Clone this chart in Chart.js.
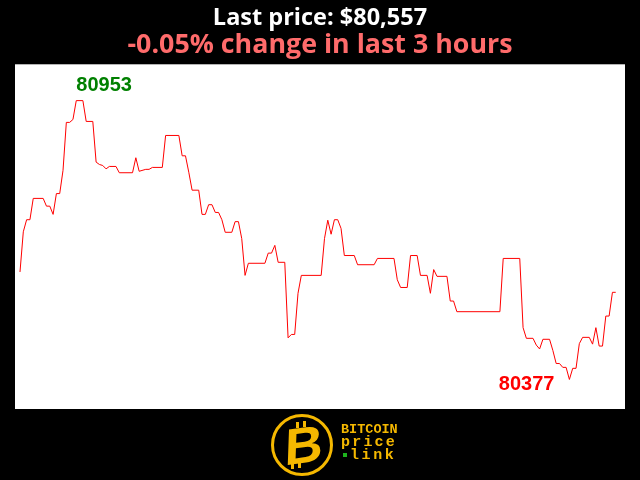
<!DOCTYPE html>
<html>
<head>
<meta charset="utf-8">
<script src="https://cdn.jsdelivr.net/npm/chart.js@4.4.1/dist/chart.umd.min.js"></script>
<style>
    body { margin: 0; background: #000; }
    #wrap { position: relative; width: 640px; height: 480px; overflow: hidden; }
    #logoCoin {
        position: absolute; left: 271px; top: 414px; width: 56px; height: 56px;
        border: 3px solid #f5b800; border-radius: 50%; background: #000;
    }
    #logoB {
        position: absolute; left: 8px; top: 0px; width: 44px; text-align: center;
        font: 900 52px/56px "Liberation Sans", Arial, sans-serif; color: #f5b800;
        transform: skewX(-10deg) rotate(-8deg);
    }
    .tick { position: absolute; width: 3px; height: 6px; background: #f5b800; }
    #logoText {
        position: absolute; left: 341px; top: 423px; color: #f5b800;
        font-family: "Liberation Mono", "DejaVu Sans Mono", monospace; font-weight: bold;
    }
    #logoText div { height: 13px; line-height: 13px; }
    .dot { display: inline-block; width: 4px; height: 4px; background: #1db31d; margin: 0 3px 2px 2px; }
</style>
</head>
<body>
<div id="wrap">
    <canvas id="priceChart" width="640" height="480"></canvas>
    <div id="logoCoin">
        <div class="tick" style="left:22px;top:5px"></div>
        <div class="tick" style="left:29px;top:4px"></div>
        <div class="tick" style="left:17px;top:46px"></div>
        <div class="tick" style="left:24px;top:45px"></div>
        <div id="logoB">B</div>
    </div>
    <div id="logoText">
        <div style="font-size:13.5px">BITCOIN</div>
        <div style="font-size:15px;letter-spacing:2.2px">price</div>
        <div style="font-size:15px;letter-spacing:2.6px"><span class="dot"></span>link</div>
    </div>
</div>
<script>
// minutos dentro das ultimas 3 horas e preco (USD)
const minutes = [0, 1, 2, 3, 4, 7, 8, 9, 10, 11,
    12, 13, 14, 15, 16, 17, 19, 20, 22, 23,
    24, 25, 26, 27, 29, 30, 34, 35, 36, 38,
    39, 40, 43, 44, 48, 49, 50, 51, 52, 54,
    55, 56, 57, 58, 59, 60, 61, 62, 64, 65,
    66, 67, 68, 69, 74, 75, 76, 77, 78, 80,
    81, 82, 83, 84, 85, 91, 92, 93, 94, 95,
    96, 97, 98, 101, 102, 107, 108, 113, 114, 115,
    117, 118, 120, 121, 123, 124, 125, 126, 129, 130,
    131, 132, 145, 146, 151, 152, 153, 155, 156, 157,
    158, 160, 161, 162, 163, 164, 165, 166, 167, 168,
    169, 170, 172, 173, 174, 175, 176, 177, 178, 179,
    180];
const prices = [80599, 80682, 80707, 80707, 80751, 80751, 80735, 80735, 80718, 80761,
    80761, 80809, 80908, 80908, 80914, 80953, 80953, 80910, 80910, 80826,
    80821, 80819, 80812, 80817, 80817, 80804, 80804, 80835, 80807, 80811,
    80811, 80815, 80815, 80881, 80881, 80839, 80839, 80805, 80768, 80768,
    80718, 80718, 80738, 80738, 80722, 80722, 80707, 80681, 80681, 80703,
    80703, 80668, 80592, 80617, 80617, 80638, 80638, 80654, 80619, 80619,
    80463, 80470, 80470, 80555, 80592, 80592, 80668, 80706, 80677, 80707,
    80707, 80689, 80633, 80633, 80614, 80614, 80627, 80627, 80583, 80567,
    80567, 80633, 80633, 80592, 80592, 80555, 80604, 80590, 80590, 80539,
    80539, 80517, 80517, 80627, 80627, 80484, 80462, 80462, 80448, 80440,
    80460, 80460, 80437, 80410, 80410, 80402, 80402, 80377, 80400, 80400,
    80451, 80464, 80464, 80450, 80484, 80446, 80446, 80508, 80508, 80557,
    80557];
const titleText = 'Last price: $80,557';
const subtitleText = '-0.05% change in last 3 hours';

const points = minutes.map((m, i) => ({ x: m, y: prices[i] }));

// fundo preto e area do grafico branca
const backgroundPlugin = {
    id: 'background',
    beforeDraw(chart) {
        const ctx = chart.ctx;
        const a = chart.chartArea;
        ctx.save();
        ctx.fillStyle = '#000';
        ctx.fillRect(0, 0, chart.width, chart.height);
        ctx.fillStyle = '#fff';
        ctx.fillRect(a.left, a.top, a.right - a.left, a.bottom - a.top);
        ctx.restore();
    }
};

// rotulos de maximo e minimo
const extremesPlugin = {
    id: 'extremes',
    afterDatasetsDraw(chart) {
        const ctx = chart.ctx;
        const xs = chart.scales.x, ys = chart.scales.y;
        const maxV = Math.max(...prices), minV = Math.min(...prices);
        const iMax = prices.indexOf(maxV), iMin = prices.indexOf(minV);
        ctx.save();
        ctx.font = 'bold 20px "Liberation Sans", Arial, sans-serif';
        ctx.textBaseline = 'alphabetic';
        ctx.fillStyle = '#008000';
        ctx.textAlign = 'left';
        ctx.fillText(String(maxV), xs.getPixelForValue(minutes[iMax]), ys.getPixelForValue(maxV) - 10);
        ctx.fillStyle = '#ff0000';
        ctx.textAlign = 'right';
        ctx.fillText(String(minV), xs.getPixelForValue(minutes[iMin]) - 15, ys.getPixelForValue(minV) + 11);
        ctx.restore();
    }
};

const ctx = document.getElementById('priceChart').getContext('2d');
const priceChart = new Chart(ctx, {
    type: 'line',
    data: {
        datasets: [{
            data: points,
            borderColor: '#ff0000',
            borderWidth: 1,
            pointRadius: 0,
            tension: 0,
            fill: false
        }]
    },
    options: {
        responsive: false,
        animation: false,
        devicePixelRatio: 1,
        layout: { padding: { left: 15, right: 15, top: 0, bottom: 71 } },
        scales: {
            x: { type: 'linear', min: -1.51, max: 182.8, display: false },
            y: { min: 80316, max: 81028, display: false }
        },
        plugins: {
            legend: { display: false },
            tooltip: { enabled: false },
            title: {
                display: true,
                text: titleText,
                color: '#ffffff',
                font: { family: '"Open Sans"', size: 23.5, weight: 'bold', lineHeight: 1 },
                padding: { top: 7, bottom: 0 }
            },
            subtitle: {
                display: true,
                text: subtitleText,
                color: '#ff6b6b',
                font: { family: '"Open Sans"', size: 26.8, weight: 'bold', lineHeight: 1 },
                padding: { top: 1, bottom: 6 }
            }
        }
    },
    plugins: [backgroundPlugin, extremesPlugin]
});
</script>
</body>
</html>
